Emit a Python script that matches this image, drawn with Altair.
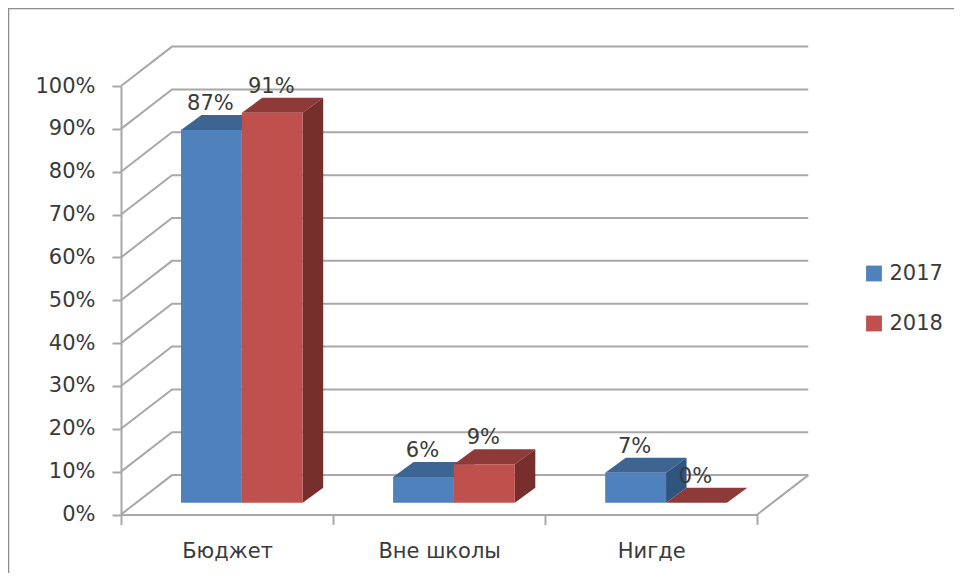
import altair as alt
import pandas as pd

categories = ["Бюджет", "Вне школы", "Нигде"]
series = ["2017", "2018"]
values_2017 = [87, 6, 7]
values_2018 = [91, 9, 0]
y_ticks = [0, 10, 20, 30, 40, 50, 60, 70, 80, 90, 100]

front_colors = ["#4F81BD", "#C0504D"]
top_colors = ["#3E6591", "#8E3A38"]
side_colors = ["#2F5480", "#772F2D"]
GRID = "#A8A8A8"
TEXT = "#3A3A3A"
FONT = "DejaVu Sans"
FS = 21

# projection constants, in data units (1 x unit = one category, 1 y unit = 1 %)
PX_X = 212.1
PX_Y = 4.285
WALL_DX = 51 / PX_X
WALL_DY = 39.4 / PX_Y
BAR_X0 = 60.0 / PX_X
BAR_W = 60.85 / PX_X
BAR_Y0 = 11.8 / PX_Y
BAR_DX = 20.5 / PX_X
BAR_DY = 15 / PX_Y

grid_rows = []
for t in y_ticks:
    grid_rows += [
        dict(t=t, i=0, x=0.0, y=float(t)),
        dict(t=t, i=1, x=WALL_DX, y=t + WALL_DY),
        dict(t=t, i=2, x=3 + WALL_DX, y=t + WALL_DY),
    ]
floor_rows = [
    dict(t=-1, i=0, x=3.0, y=0.0),
    dict(t=-1, i=1, x=3 + WALL_DX, y=WALL_DY),
]

front, top, side = [], [], []
for s_i, (s, vals) in enumerate(zip(series, [values_2017, values_2018])):
    for c_i, (c, v) in enumerate(zip(categories, vals)):
        xl = c_i + BAR_X0 + s_i * BAR_W
        xr = xl + BAR_W
        yt = v + BAR_Y0
        front.append(dict(series=s, cat=c, xl=xl, xr=xr, y0=BAR_Y0, yt=yt,
                          xc=(xl + xr) / 2, label=f"{v}%"))
        top += [
            dict(series=s, cat=c, y=yt, xa=xl, xb=xr),
            dict(series=s, cat=c, y=yt + BAR_DY, xa=xl + BAR_DX, xb=xr + BAR_DX),
        ]
        side += [
            dict(series=s, cat=c, x=xr, ya=BAR_Y0, yb=yt),
            dict(series=s, cat=c, x=xr + BAR_DX, ya=BAR_Y0 + BAR_DY, yb=yt + BAR_DY),
        ]
front = pd.DataFrame(front)
top = pd.DataFrame(top)
side = pd.DataFrame(side)

X = alt.Scale(domain=[0, 3], nice=False, zero=False)
Y = alt.Scale(domain=[0, 100], nice=False, zero=False)
y_axis = alt.Axis(values=y_ticks, labelExpr="datum.value + '%'", title=None, grid=False,
                  tickSize=9, tickWidth=2, tickColor=GRID, domainColor=GRID, domainWidth=2,
                  labelFont=FONT, labelFontSize=FS, labelColor=TEXT, labelPadding=17)
x_axis = alt.Axis(title=None, labelAngle=0, tickBand="extent", tickSize=10, tickWidth=2,
                  tickColor=GRID, domainColor=GRID, domainWidth=2, grid=False,
                  labelFont=FONT, labelFontSize=FS, labelColor=TEXT, labelPadding=16)
xq = lambda f: alt.X(f"{f}:Q", scale=X, axis=None)
yq = lambda f: alt.Y(f"{f}:Q", scale=Y, axis=y_axis, stack=None)

axis_layer = alt.Chart(pd.DataFrame({"cat": categories, "v": [0, 0, 0]})).mark_point(opacity=0).encode(
    x=alt.X("cat:N", sort=categories, axis=x_axis,
            scale=alt.Scale(domain=categories, paddingInner=0, paddingOuter=0)),
    y=yq("v"),
)

grid = alt.Chart(pd.DataFrame(grid_rows)).mark_line(color=GRID, strokeWidth=2).encode(
    x=xq("x"), y=yq("y"), detail="t:N", order="i:Q")
floor = alt.Chart(pd.DataFrame(floor_rows)).mark_line(color=GRID, strokeWidth=2).encode(
    x=xq("x"), y=yq("y"), detail="t:N", order="i:Q")

frame = alt.Chart(pd.DataFrame({"k": [0]}))
frame_left = frame.mark_rule(color="#8C8C8C", strokeWidth=2.5).encode(
    x=alt.value(-113), y=alt.value(-78), y2=alt.value(495))
frame_top = frame.mark_rule(color="#8C8C8C", strokeWidth=2.5).encode(
    x=alt.value(-113), x2=alt.value(841), y=alt.value(-78))

layers = [axis_layer, grid, floor, frame_left, frame_top]
for i, s in enumerate(series):
    tp = top[top.series == s]
    sd = side[side.series == s]
    f = front[front.series == s]
    layers.append(alt.Chart(tp).mark_area(orient="horizontal", color=top_colors[i]).encode(
        x=alt.X("xa:Q", scale=X, axis=None, stack=None), x2="xb:Q", y=yq("y"), detail="cat:N"))
    layers.append(alt.Chart(sd).mark_area(orient="vertical", color=side_colors[i]).encode(
        x=xq("x"), y=yq("ya"), y2="yb:Q", detail="cat:N"))
    layers.append(alt.Chart(f).mark_rect().encode(
        x=xq("xl"), x2="xr:Q", y=yq("y0"), y2="yt:Q",
        color=alt.Color("series:N", scale=alt.Scale(domain=series, range=front_colors),
                        legend=alt.Legend(orient="none", legendX=742.5, legendY=177, title=None,
                                          symbolType="square", symbolSize=250, symbolStrokeWidth=0,
                                          labelFont=FONT, labelFontSize=FS, labelColor=TEXT,
                                          labelOffset=5, rowPadding=28, padding=0))))
labels = alt.Chart(front).mark_text(font=FONT, fontSize=FS, color=TEXT, dy=-26, dx=-1, baseline="middle").encode(
    x=xq("xc"), y=yq("yt"), text="label:N")
layers.append(labels)

chart = alt.layer(*layers).resolve_scale(x="independent").properties(
    width=636.3, height=428.5,
    padding={"left": 113, "top": 78, "right": 196.7, "bottom": 58.5},
    autosize=alt.AutoSizeParams(type="none"),
    background="white",
).configure_view(stroke=None)

chart.save("out.html", embed_options={"renderer": "svg", "actions": False})
